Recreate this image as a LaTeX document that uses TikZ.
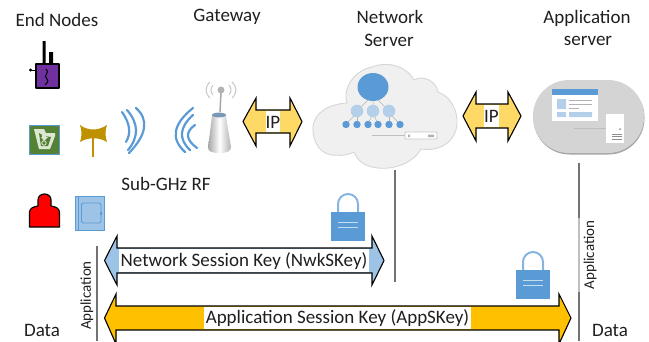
\documentclass[tikz,border=0pt]{standalone}
\usepackage{fontspec}
\setmainfont{Carlito}
\usetikzlibrary{shadows,calc}
\definecolor{ipy}{HTML}{FFD966}
\definecolor{keyo}{HTML}{FFC000}
\definecolor{keyb}{HTML}{9DC3E6}
\definecolor{mblue}{HTML}{5B9BD5}
\definecolor{lblue}{HTML}{B4CFE9}
\definecolor{txt}{HTML}{1F1F1F}
\definecolor{purp}{HTML}{7030A0}
\definecolor{grn}{HTML}{548235}
\definecolor{pale}{HTML}{DDE8D4}
\definecolor{horn}{HTML}{BF9000}
\tikzset{
 lab/.style={font=\fontsize{19}{22}\selectfont,text=txt,inner sep=0pt},
 vlab/.style={font=\fontsize{15}{17}\selectfont,text=txt,inner sep=0pt,rotate=90},
 iplab/.style={font=\fontsize{19}{22}\selectfont,text=txt,inner sep=0pt},
 wave/.style={draw=mblue,line width=2.2pt,line cap=round},
 gwave/.style={draw=black!22,line width=1pt},
 arrowline/.style={draw=black,line width=1.1pt,line join=miter},
 vline/.style={draw=black!55,line width=1.1pt},
 netdot/.style={fill=mblue,draw=none},
 netmid/.style={fill=lblue,draw=none},
 tree/.style={draw=black!30,line width=0.5pt},
 icon/.style={draw=black,line width=1.2pt,line join=round},
}
% parabola through three points
\newcommand{\wav}[7]{%
 \draw[#1] (#2,#3) .. controls ({#2/3+(2/3)*(2*#4-(#2+#6)/2)},{#3/3+(2/3)*(2*#5-(#3+#7)/2)}) and ({#6/3+(2/3)*(2*#4-(#2+#6)/2)},{#7/3+(2/3)*(2*#5-(#3+#7)/2)}) .. (#6,#7);
}
\newcommand{\lockicon}[2]{%
 \draw[draw=mblue!75!white,line width=2pt] (#1-10,#2) -- (#1-10,#2-8) arc[start angle=180,end angle=360,radius=10] -- (#1+10,#2);
 \fill[mblue] (#1-17,#2) rectangle (#1+17,#2+29);
 \draw[draw=white!65!mblue,line width=0.9pt] (#1-10,#2+10) -- (#1+10,#2+10) (#1-10,#2+15) -- (#1+10,#2+15);
}
\newcommand{\dblarrow}[9]{% x0 x1 x2 x3 ytop-head ytop-shaft ybot-shaft ybot-head fill
 \path[fill=#9,arrowline] (#1,{(#6+#7)/2}) -- (#2,#5) -- (#2,#6) -- (#3,#6) -- (#3,#5) -- (#4,{(#6+#7)/2}) -- (#3,#8) -- (#3,#7) -- (#2,#7) -- (#2,#8) -- cycle;
}
\begin{document}
\begin{tikzpicture}[x=1pt,y=-1pt]
\useasboundingbox (0,0) rectangle (649,341);
\clip (0,0) rectangle (649,341);
% titles
\node[lab] (tEnd) at (57,20) {End Nodes};
\node[lab] (tGw) at (227,17) {Gateway};
\node[lab] (tNet1) at (390,17) {Network};
\node[lab] (tNet2) at (389,40) {Server};
\node[lab] (tApp1) at (587,18) {Application};
\node[lab] (tApp2) at (588,41) {server};
\node[lab] (tRf) at (166,184) {Sub-GHz RF};
% purple node
\fill[black] (42.5,41) rectangle (45.5,64) (49,52) rectangle (53,64);
\draw[black,line width=1pt] (31,70) -- (36,70);
\fill[black] (30.5,70) circle (1.6);
\path[icon,fill=purp] (36,64) rectangle (59,88);
\draw[black,line width=1pt] (46,69) .. controls (51,72) and (42,76) .. (47,79) .. controls (49,81) and (47,84) .. (45,85);
% green node
\path[fill=grn,draw=mblue,line width=1pt] (29.5,125) rectangle (59.5,154);
\path[fill=pale] (34,129) -- (44,129) -- (46,133) -- (55,133) -- (55,136) -- (50,149) -- (39,149) -- cycle;
\path[fill=grn] (39,133) -- (44,136) -- (51,137) -- (48,146) -- (41,146) -- cycle;
\path[fill=pale] (42,134) -- (46,134) -- (46,137) -- (48,137) -- (44,141) -- (41,137) -- (42,137) -- cycle;
\draw[pale,line width=0.8pt] (44,143) circle (2.2);
% horn
\path[fill=horn] (80,125) .. controls (88,131) and (98,131) .. (107,125) .. controls (105,131) and (105,136) .. (107,142) .. controls (99,137) and (88,137) .. (80,142) .. controls (82,136) and (82,131) .. (80,125) -- cycle;
\fill[horn] (92.3,135) rectangle (94.3,157);
% waves right
\wav{wave}{122}{112}{129}{128}{126}{142}
\wav{wave}{127}{110}{136}{130}{128}{150}
\wav{wave}{136}{108}{144}{128}{129}{153}
% waves left
\wav{wave}{193}{108}{176}{131}{185}{152}
\wav{wave}{193}{115}{182}{133}{190}{150}
\wav{wave}{195}{125}{188}{136}{197}{148}
% gateway
\wav{gwave}{210}{82}{206}{90}{210}{98}
\wav{gwave}{213}{85}{211}{90}{213}{95}
\wav{gwave}{232}{82}{236}{90}{232}{98}
\wav{gwave}{229}{85}{231}{90}{229}{95}
\draw[black!35,line width=1.5pt] (221,92) -- (220,112);
\fill[black!30] (221,90) circle (3.5);
\shade[left color=black!35,right color=black!30,middle color=white] (212,115) .. controls (211,125) and (209,140) .. (208,147) .. controls (208,151) and (211,153) .. (219,153) .. controls (228,153) and (231,151) .. (231,147) .. controls (230,140) and (227,125) .. (226,115) -- cycle;
\fill[mblue!70!black!70] (219,115) ellipse (7 and 2.4);
% IP arrows
\dblarrow{243}{256}{290}{302}{98}{110}{133}{146}{ipy}
\fill[white] (266,111) rectangle (280,132);
\node[iplab] (ip1) at (273,122) {IP};
\dblarrow{463}{476}{508}{521}{92}{104}{128}{141}{ipy}
\fill[white] (484,105) rectangle (499,127);
\node[iplab] (ip2) at (491.5,116) {IP};
% cloud
\path[fill=black!6,draw=black!16,line width=0.9pt] (337,155)
 .. controls (322,157) and (312,143) .. (313,127)
 .. controls (314,112) and (330,104) .. (347,103)
 .. controls (342,88) and (355,70) .. (372,67)
 .. controls (390,60) and (408,68) .. (414,80)
 .. controls (422,75) and (436,80) .. (438,92)
 .. controls (450,96) and (458,110) .. (457,124)
 .. controls (456,140) and (442,152) .. (421,149)
 .. controls (414,162) and (395,170) .. (378,168)
 .. controls (366,167) and (358,162) .. (354,152)
 .. controls (348,155) and (342,156) .. (337,155) -- cycle;
\draw[tree] (373,95) -- (357,111) (373,95) -- (373,111) (373,95) -- (389,111);
\foreach \p/\c in {357/346,357/357,373/368,373/378,389/389,389/400} {\draw[tree] (\p,113) -- (\c,124);}
\fill[mblue] (373,87) ellipse (15.5 and 14);
\foreach \x in {357,373,389} {\fill[netmid] (\x,111) circle (6.3);}
\foreach \x in {346,357,368,378,389,400} {\fill[netdot] (\x,124.5) circle (3.7);}
\draw[black!25,line width=0.6pt] (372,135.5) -- (405,135.5);
\path[fill=white,draw=black!22,line width=0.9pt,rounded corners=1pt] (405,132) rectangle (437,139);
\fill[black!30] (408,134.5) rectangle (410,137) (428,134.5) rectangle (434,137);
% app server
\path[fill=black!17,rounded corners=36pt,drop shadow={shadow xshift=0.5pt,shadow yshift=-1.5pt,opacity=.35,fill=black}] (533,80) rectangle (644,153);
\fill[white] (552,89) rectangle (598,121);
\fill[mblue] (552,89) rectangle (598,94.5);
\fill[lblue] (557,99) rectangle (566,109) (557,112) rectangle (566,117) (569,112) rectangle (592,117);
\draw[black!30,line width=0.6pt] (569,100) -- (592,100) (569,104) -- (592,104) (569,108) -- (579,108);
\draw[black!25,line width=0.6pt] (574,128) -- (606,128);
\fill[white] (606,114) rectangle (624,143);
\draw[black!45,line width=0.6pt] (612,134) -- (622,134) (612,136.5) -- (622,136.5) (612,139) -- (622,139);
\fill[black!45] (620,129) circle (1);
% vertical lines
\draw[vline] (395,170) -- (395,282);
\draw[vline] (97,246) -- (97,341);
\draw[vline] (579,163) -- (579,218);
\draw[draw=black!25,line width=1.1pt] (579,218) -- (579,292);
\draw[vline] (579,292) -- (579,341);
\node[vlab] (vA1) at (87,295.5) {Application};
\node[vlab] (vA2) at (590,255) {Application};
% key arrows
\dblarrow{104.5}{117}{372}{384}{236}{248}{273}{285}{keyb}
\fill[white] (119,249) rectangle (369,272);
\node[lab] (kNet) at (244,261) {Network Session Key (NwkSKey)};
\dblarrow{104.5}{116}{559}{571}{294}{306}{330}{344}{keyo}
\fill[white] (204,307) rectangle (471,329);
\node[lab] (kApp) at (337.5,318) {Application Session Key (AppSKey)};
% locks
\lockicon{348}{212}
\lockicon{533}{270}
% red
\path[icon,fill=red] (29.5,227) -- (29.5,212) .. controls (30,208) and (33,207) .. (38,206) -- (38,200) .. controls (38,192) and (51,192) .. (51,200) -- (51,206) .. controls (56,207) and (59,208) .. (59.5,212) -- (59.5,227) -- cycle;
% door
\path[fill=keyb,draw=mblue,line width=0.9pt] (75,196.5) rectangle (104.5,230);
\draw[mblue,line width=1pt] (78,197) -- (78,230);
\path[draw=mblue,line width=0.9pt,rounded corners=1.5pt] (81.5,203) rectangle (101,223);
\fill[mblue] (100,212) rectangle (102,215);
% data
\node[lab] (dL) at (42,330) {Data};
\node[lab] (dR) at (610,330) {Data};
\end{tikzpicture}
\end{document}
